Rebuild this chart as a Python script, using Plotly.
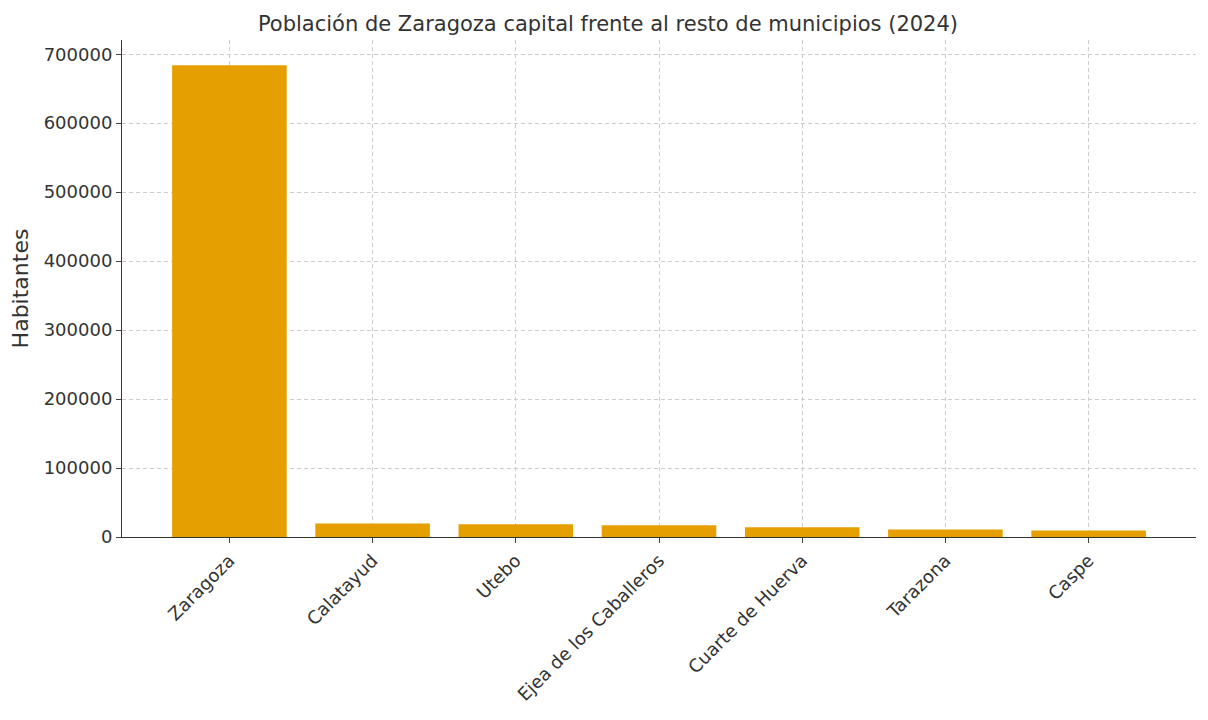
import plotly.graph_objects as go

municipios = ["Zaragoza", "Calatayud", "Utebo", "Ejea de los Caballeros", "Cuarte de Huerva", "Tarazona", "Caspe"]
habitantes = [684000, 19600, 18600, 17000, 14000, 11000, 9600]
yticks = [0, 100000, 200000, 300000, 400000, 500000, 600000, 700000]

fig = go.Figure(go.Bar(x=list(range(len(municipios))), y=habitantes, marker_color="#E69F00", width=0.8, marker_line_width=0))
grid = dict(showgrid=True, gridcolor="#cccccc", griddash="4px,3px", gridwidth=1)
fig.update_layout(
    width=1200, height=712, plot_bgcolor="white", paper_bgcolor="white",
    margin=dict(l=114, r=12, t=32, b=183),
    font=dict(family="DejaVu Sans", size=18, color="#333"),
    title=dict(text="Población de Zaragoza capital frente al resto de municipios (2024)", x=0.5, xanchor="center",
               y=1 - 16 / 712, yanchor="middle", font=dict(size=21)),
    showlegend=False,
)
fig.update_xaxes(range=[-0.75, 6.75], tickvals=list(range(len(municipios))), ticktext=municipios, tickangle=-45,
                 ticks="outside", ticklen=5, showline=True, linecolor="#333", **grid)
fig.update_yaxes(range=[0, 720600], tickvals=yticks, ticktext=[str(v) for v in yticks], title_text="Habitantes",
                 title_standoff=8, ticks="outside", ticklen=5, showline=True, linecolor="#333", zeroline=False, **grid)
fig.write_html("out.html")
